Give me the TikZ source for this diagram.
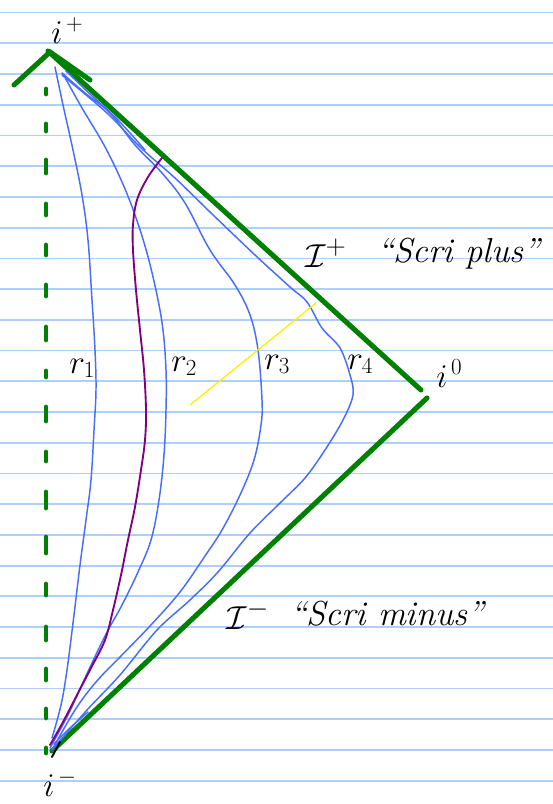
\documentclass[tikz,border=0pt]{standalone}
\begin{document}
\begin{tikzpicture}[x=0.75pt,y=-0.75pt,
  paperline/.style={draw=paperblue,line width=1.3pt},
  greenline/.style={draw=penGreen,line width=3.8pt,line cap=round},
  bluecurve/.style={draw=penBlue,line width=1.1pt,line cap=round,line join=round},
  purplecurve/.style={draw=penPurple,line width=1.4pt,line cap=round},
  yellowline/.style={draw=penYellow,line width=1.0pt},
  lbl/.style={inner sep=0pt,anchor=base west,font=\fontsize{23}{25}\selectfont},
  scrilbl/.style={inner sep=0pt,anchor=base west,font=\fontsize{26}{28}\selectfont\itshape}]
\definecolor{paperblue}{RGB}{172,208,250}
\definecolor{penGreen}{RGB}{0,128,0}
\definecolor{penBlue}{RGB}{70,110,250}
\definecolor{penPurple}{RGB}{128,0,128}
\definecolor{penYellow}{RGB}{255,240,0}
\useasboundingbox (0,0) rectangle (553,804);
\fill[white] (0,0) rectangle (553,804);
% ruled paper
\foreach \k in {-1,...,24}{
  \draw[paperline] (0,{43.3+30.725*\k}) -- (553,{43.3+30.725*\k});
}
% dashed green worldline r=0
\foreach \a/\b in {89/94,124/131,160/173,204/215,245/255,285/296,327/340,371/377,407/421,452/461,492/508,537/553,584/595,627/640,669/680,709/718,748/753}{
  \draw[greenline,line width=3.6pt] (46,\a) -- (46,\b);
}
% green boundaries
\coordinate (iP) at (50,52);
\coordinate (iPL) at (14,85);
\coordinate (iPR) at (90,80);
\coordinate (iZa) at (421,390);
\coordinate (iZb) at (427,398);
\coordinate (iM) at (52,751);
\draw[greenline] (iPL) -- (iP) -- (iPR);
\draw[greenline] (48,51) -- (iZa);
\draw[greenline] (iZb) -- (iM);
% blue curves
\draw[bluecurve] plot[smooth,tension=0.6] coordinates {(55,67) (63,105) (73,150) (82,195) (88,240) (92,300) (95,350) (96,390) (94,430) (91,480) (86,520) (80,565) (74,615) (67,670) (61,705) (52,738)};
\draw[bluecurve] plot[smooth,tension=0.6] coordinates {(63,74) (82,108) (104,145) (122,182) (135,215) (147,253) (157,295) (163,330) (166,370) (166,410) (164,455) (159,500) (151,540) (138,572) (122,605) (105,636) (85,678) (68,715) (50,748)};
\draw[bluecurve] plot[smooth,tension=0.6] coordinates {(62,73) (85,93) (110,113) (135,145) (162,173) (185,203) (210,250) (235,285) (250,315) (258,350) (262,400) (261,425) (254,460) (240,495) (222,530) (205,556) (180,592) (150,626) (120,657) (96,682) (75,710) (52,750)};
\draw[bluecurve] plot[smooth,tension=0.55] coordinates {(62,75) (107,113) (140,147) (175,178) (210,212) (255,255) (290,287) (307,302) (322,328) (340,348) (350,375) (353,395) (343,420) (325,450) (305,478) (280,503) (250,533) (218,572) (190,600) (157,630) (120,675) (87,710) (52,750)};
\draw[bluecurve] plot[smooth,tension=0.6] coordinates {(66,71) (90,94) (118,120) (145,150)};
\draw[bluecurve] plot[smooth,tension=0.6] coordinates {(54,744) (70,728) (88,712)};
% purple curve
\draw[purplecurve] plot[smooth,tension=0.6] coordinates {(162,158) (148,177) (137,200) (133,225) (133,250) (136,290) (140,330) (144,370) (146,410) (145,440) (141,470) (135,507) (128,540) (121,575) (113,610) (105,640) (91,668) (77,695) (63,722) (50,745)};
% yellow line
\coordinate (yA) at (190,405);
\coordinate (yB) at (316,303);
\draw[yellowline] (yA) -- (yB);
% small black tick at i-
\coordinate (tA) at (52,757);
\coordinate (tB) at (60,742);
\draw[line width=1.4pt,line cap=round] (tA) -- (tB);
% labels
\node[lbl] (iplus) at (51,43) {$i^{\,+}$};
\node[lbl] (izero) at (436,387) {$i^{\,0}$};
\node[lbl] (iminus) at (43,796) {$i^{\,-}$};
\node[lbl] (r1) at (69,373) {$r_1$};
\node[lbl] (r2) at (171,371) {$r_2$};
\node[lbl] (r3) at (264,369) {$r_3$};
\node[lbl] (r4) at (347,369) {$r_4$};
\node[lbl,font=\fontsize{29}{30}\selectfont] (Jplus) at (305,267) {$\mathcal{I}^{+}$};
\node[scrilbl] (scriplus) at (377,262) {``Scri plus''};
\node[lbl,font=\fontsize{31}{32}\selectfont] (Jminus) at (226,629) {$\mathcal{I}^{-}$};
\node[scrilbl] (scriminus) at (290,625) {``Scri minus''};
\end{tikzpicture}
\end{document}
